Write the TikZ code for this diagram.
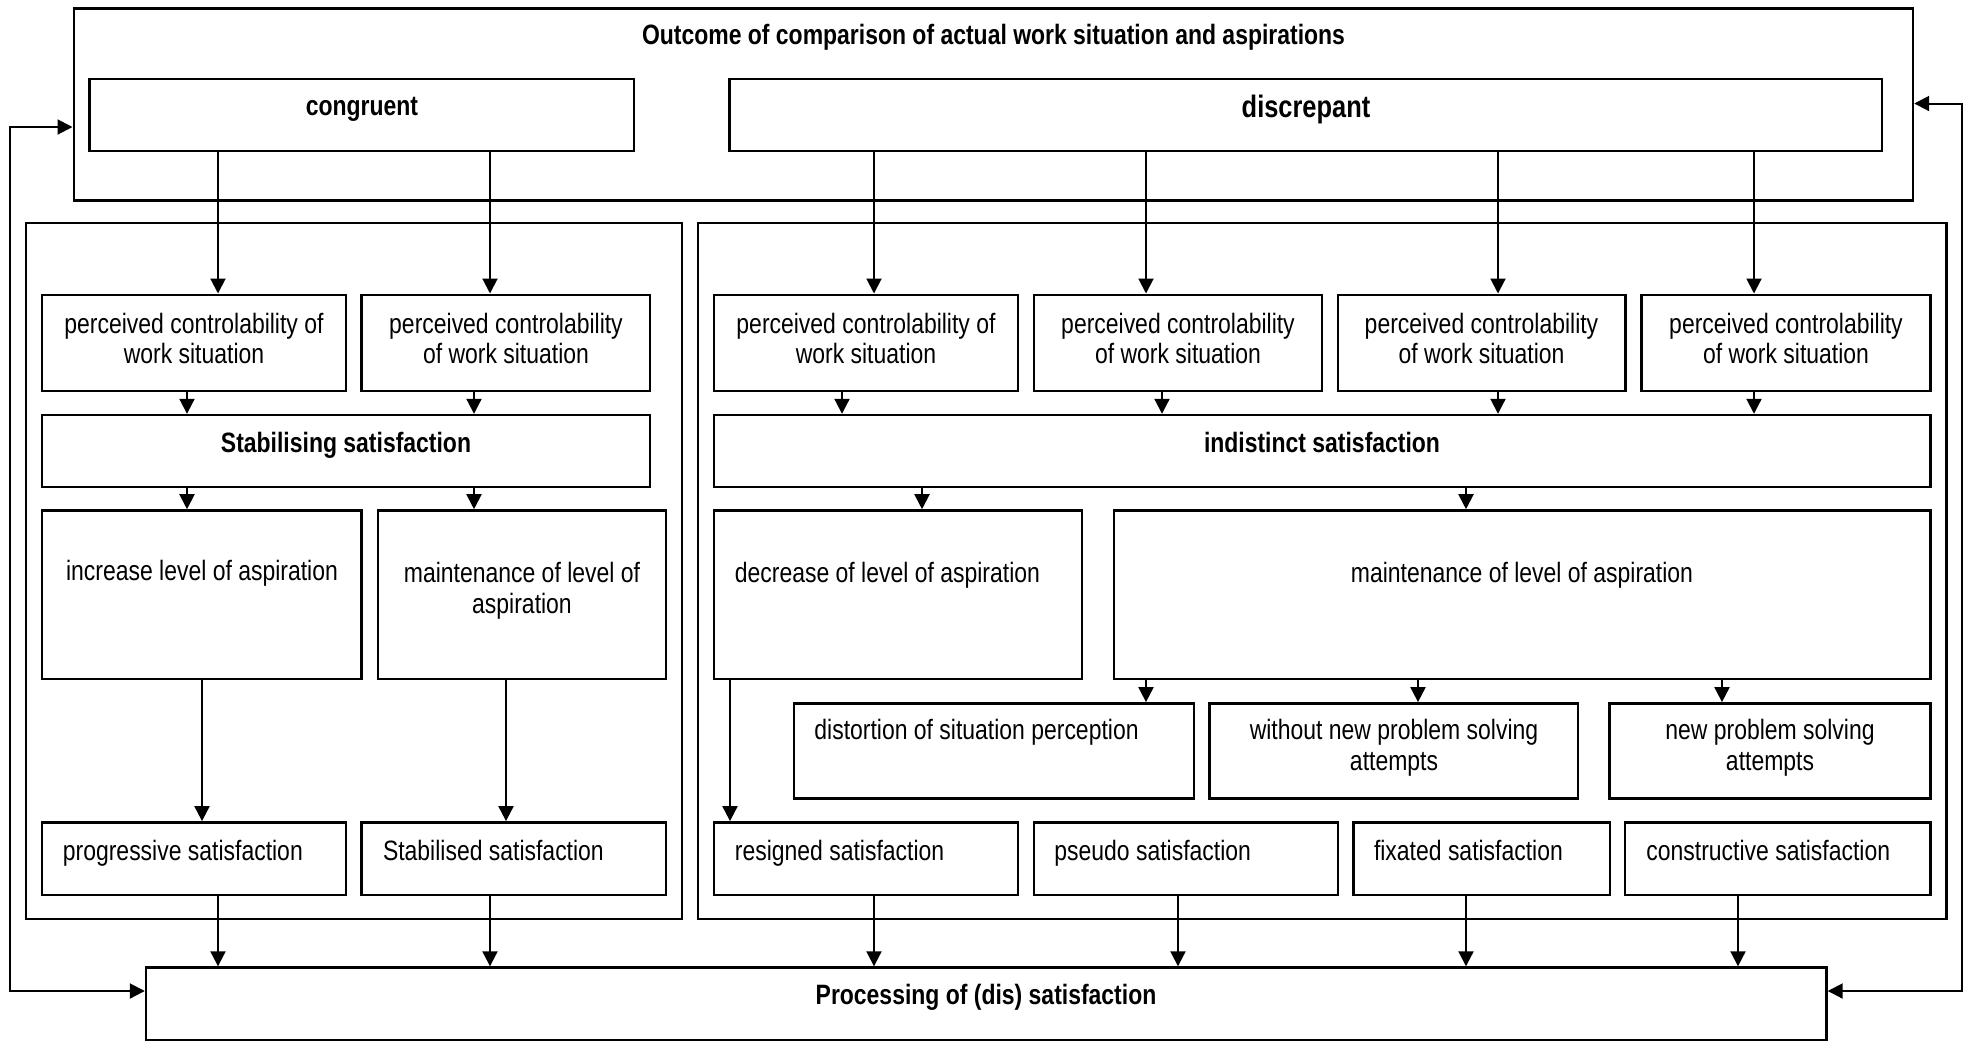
\documentclass[tikz,border=0pt]{standalone}
\usepackage{fontspec}
\setmainfont{Liberation Sans}[FakeStretch=0.82]
\usetikzlibrary{arrows.meta,fit}

\begin{document}
\begin{tikzpicture}[x=0.5pt,y=-0.5pt,
  box/.style={draw=black, line width=1.2pt, inner sep=0pt},
  txt/.style={inner sep=0pt, anchor=base, font=\fontsize{14pt}{16pt}\selectfont},
  txtl/.style={txt, anchor=base west},
  bold/.style={txt, font=\fontsize{14pt}{16pt}\selectfont\bfseries},
  tip/.tip={Triangle[length=7.5pt,width=7.5pt]},
  arr/.style={line width=1pt, -tip},
  biarr/.style={line width=1pt, tip-tip},
]
\useasboundingbox (0,0) rectangle (1971,1041);

% ---------- frames ----------
\node[box, fit={(73.7,8.3)(1913,200.3)}] (outcome) {};
\node[box, fit={(25.9,222.7)(682,919.2)}] (leftframe) {};
\node[box, fit={(697.9,222.7)(1946.4,919.2)}] (rightframe) {};

% ---------- top row ----------
\node[box, fit={(89.3,79)(634,151)}] (cong) {};
\node[box, fit={(729.6,79)(1882,151)}] (disc) {};

% ---------- perceived controlability ----------
\node[box, fit={(42,294.7)(346,390.7)}] (p1) {};
\node[box, fit={(361.6,294.7)(650,390.7)}] (p2) {};
\node[box, fit={(714,294.7)(1018,390.7)}] (p3) {};
\node[box, fit={(1034,294.7)(1322,390.7)}] (p4) {};
\node[box, fit={(1337.7,294.7)(1625.3,390.7)}] (p5) {};
\node[box, fit={(1641.6,294.7)(1930.6,390.7)}] (p6) {};

% ---------- satisfaction type ----------
\node[box, fit={(42,415)(650,486.7)}] (stab) {};
\node[box, fit={(714,415)(1930.6,486.7)}] (ind) {};

% ---------- level of aspiration ----------
\node[box, fit={(42,510.4)(361.6,679.2)}] (inc) {};
\node[box, fit={(377.7,510.4)(666,679.2)}] (mal) {};
\node[box, fit={(714,510.4)(1082,679.2)}] (dec) {};
\node[box, fit={(1114,510.4)(1930.6,679.2)}] (mar) {};

% ---------- coping ----------
\node[box, fit={(793.8,703.3)(1194,798.6)}] (dist) {};
\node[box, fit={(1209.5,703.3)(1578,798.6)}] (without) {};
\node[box, fit={(1609.5,703.3)(1930.6,798.6)}] (newp) {};

% ---------- forms of satisfaction ----------
\node[box, fit={(42,822.3)(346,894.7)}] (prog) {};
\node[box, fit={(361.6,822.3)(666,894.7)}] (stbd) {};
\node[box, fit={(714,822.3)(1018,894.7)}] (res) {};
\node[box, fit={(1034,822.3)(1338,894.7)}] (pseudo) {};
\node[box, fit={(1353.5,822.3)(1610,894.7)}] (fix) {};
\node[box, fit={(1625,822.3)(1930.6,894.7)}] (cons) {};

% ---------- processing ----------
\node[box, fit={(146,967.5)(1826.5,1040)}] (proc) {};

% ---------- texts ----------
\node[bold] (titlet) at (993.5,44) {Outcome of comparison of actual work situation and aspirations};
\node[bold] (congt) at (362,115) {congruent};
\node[txt, font=\fontsize{15.5pt}{17pt}\selectfont\bfseries] (disct) at (1306,117) {discrepant};

\node[txt] (p1a) at (194,333) {perceived controlability of};
\node[txt] (p1b) at (194,363.5) {work situation};
\node[txt] (p2a) at (506,333) {perceived controlability};
\node[txt] (p2b) at (506,363.5) {of work situation};
\node[txt] (p3a) at (866,333) {perceived controlability of};
\node[txt] (p3b) at (866,363.5) {work situation};
\node[txt] (p4a) at (1178,333) {perceived controlability};
\node[txt] (p4b) at (1178,363.5) {of work situation};
\node[txt] (p5a) at (1481.5,333) {perceived controlability};
\node[txt] (p5b) at (1481.5,363.5) {of work situation};
\node[txt] (p6a) at (1786,333) {perceived controlability};
\node[txt] (p6b) at (1786,363.5) {of work situation};

\node[bold] (stabt) at (346,452) {Stabilising satisfaction};
\node[bold] (indt) at (1322,452) {indistinct satisfaction};

\node[txt] (inct) at (202,580) {increase level of aspiration};
\node[txt] (mala) at (522,582) {maintenance of level of};
\node[txt] (malb) at (522,613) {aspiration};
\node[txtl] (dect) at (734.5,582) {decrease of level of aspiration};
\node[txt] (mart) at (1522,582) {maintenance of level of aspiration};

\node[txtl] (distt) at (814,739) {distortion of situation perception};
\node[txt] (wa) at (1394,739) {without new problem solving};
\node[txt] (wb) at (1394,770) {attempts};
\node[txt] (na) at (1770,739) {new problem solving};
\node[txt] (nb) at (1770,770) {attempts};

\node[txtl] (progt) at (62.5,860) {progressive satisfaction};
\node[txtl] (stbdt) at (382.6,860) {Stabilised satisfaction};
\node[txtl] (rest) at (734.5,860) {resigned satisfaction};
\node[txtl] (pseudot) at (1054,860) {pseudo satisfaction};
\node[txtl] (fixt) at (1373.6,860) {fixated satisfaction};
\node[txtl] (const) at (1646,860) {constructive satisfaction};

\node[bold] (proct) at (986,1004) {Processing of (dis) satisfaction};

% ---------- connector columns ----------
\foreach \c in {187,202,218,474,490,506,730,842,874,922,1146,1162,1178,1418,1466,1498,1722,1738,1754}
  \coordinate (k\c) at (\c,0);

% ---------- connectors ----------
\draw[arr] (cong.south -| k218) -- (p1.north -| k218);
\draw[arr] (cong.south -| k490) -- (p2.north -| k490);
\draw[arr] (disc.south -| k874) -- (p3.north -| k874);
\draw[arr] (disc.south -| k1146) -- (p4.north -| k1146);
\draw[arr] (disc.south -| k1498) -- (p5.north -| k1498);
\draw[arr] (disc.south -| k1754) -- (p6.north -| k1754);

\draw[arr] (p1.south -| k187) -- (stab.north -| k187);
\draw[arr] (p2.south -| k474) -- (stab.north -| k474);
\draw[arr] (p3.south -| k842) -- (ind.north -| k842);
\draw[arr] (p4.south -| k1162) -- (ind.north -| k1162);
\draw[arr] (p5.south -| k1498) -- (ind.north -| k1498);
\draw[arr] (p6.south -| k1754) -- (ind.north -| k1754);

\draw[arr] (stab.south -| k187) -- (inc.north -| k187);
\draw[arr] (stab.south -| k474) -- (mal.north -| k474);
\draw[arr] (ind.south -| k922) -- (dec.north -| k922);
\draw[arr] (ind.south -| k1466) -- (mar.north -| k1466);

\draw[arr] (inc.south -| k202) -- (prog.north -| k202);
\draw[arr] (mal.south -| k506) -- (stbd.north -| k506);
\draw[arr] (dec.south -| k730) -- (res.north -| k730);
\draw[arr] (mar.south -| k1146) -- (dist.north -| k1146);
\draw[arr] (mar.south -| k1418) -- (without.north -| k1418);
\draw[arr] (mar.south -| k1722) -- (newp.north -| k1722);

\draw[arr] (prog.south -| k218) -- (proc.north -| k218);
\draw[arr] (stbd.south -| k490) -- (proc.north -| k490);
\draw[arr] (res.south -| k874) -- (proc.north -| k874);
\draw[arr] (pseudo.south -| k1178) -- (proc.north -| k1178);
\draw[arr] (fix.south -| k1466) -- (proc.north -| k1466);
\draw[arr] (cons.south -| k1738) -- (proc.north -| k1738);

% ---------- feedback loops ----------
\coordinate (ltop) at (10,127);
\coordinate (lbot) at (10,991);
\coordinate (rtop) at (1962,103.5);
\coordinate (rbot) at (1962,991);
\draw[biarr] (outcome.west |- ltop) -- (ltop) -- (lbot) -- (proc.west |- lbot);
\draw[biarr] (outcome.east |- rtop) -- (rtop) -- (rbot) -- (proc.east |- rbot);
\end{tikzpicture}
\end{document}
